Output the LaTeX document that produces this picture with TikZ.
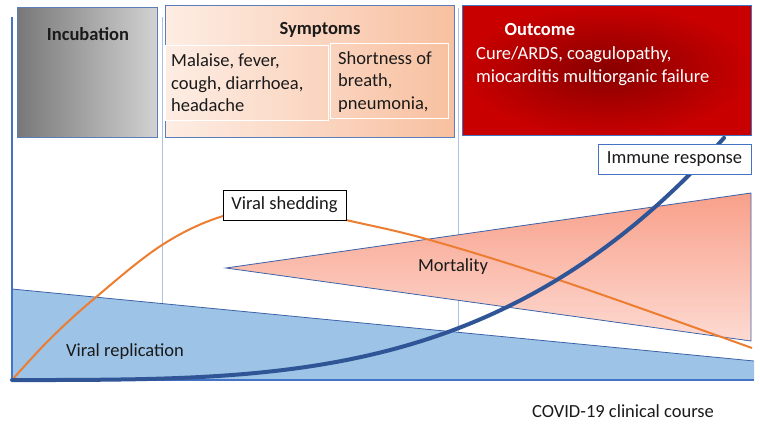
\documentclass[tikz,border=0pt]{standalone}
\usepackage{fontspec}
\setmainfont{Carlito}
\definecolor{axisblue}{HTML}{4472C4}
\definecolor{guideblue}{HTML}{A9C1E6}
\definecolor{vrfill}{HTML}{9DC3E6}
\definecolor{vredge}{HTML}{3C62A8}
\definecolor{immuneblue}{HTML}{2F5597}
\definecolor{shedorange}{HTML}{ED7D31}
\definecolor{morttop}{HTML}{F8A08A}
\definecolor{mortbot}{HTML}{FDDAD2}
\definecolor{outdark}{HTML}{880000}
\definecolor{outred}{HTML}{C80000}
\definecolor{symleft}{HTML}{FDEDE4}
\definecolor{symright}{HTML}{F8C0A0}
\definecolor{incleft}{HTML}{787878}
\definecolor{incright}{HTML}{D2D2D2}
\definecolor{boxedge}{HTML}{5B7DB8}
\definecolor{txt}{HTML}{1A1A1A}
\begin{document}
\begin{tikzpicture}[x=1pt,y=-1pt,
  font=\fontsize{18.5}{22}\selectfont, text=txt,
  guide/.style={draw=guideblue, line width=0.8pt},
  axisline/.style={draw=axisblue, line width=2pt},
  panel/.style={draw=boxedge, line width=0.8pt, anchor=north west, inner sep=0pt},
  innerbox/.style={draw=white, line width=0.8pt, anchor=north west, inner sep=0pt},
  labelbox/.style={draw, fill=white, line width=0.8pt, anchor=north west, inner sep=0pt, minimum height=30pt},
  plain/.style={inner sep=0pt},
  boldtext/.style={inner sep=0pt, font=\bfseries\fontsize{18.5}{22}\selectfont},
  listtext/.style={inner sep=0pt, align=left, anchor=west, font=\fontsize{18.5}{22.5}\selectfont},
  shedcurve/.style={draw=shedorange, line width=2pt},
  immunecurve/.style={draw=immuneblue, line width=4pt, line cap=round}
]
\useasboundingbox (0,0) rectangle (760,426);

% period separators
\coordinate (g1t) at (162,17);
\coordinate (g1b) at (162,310);
\coordinate (g2t) at (458,8);
\coordinate (g2b) at (458,336);
\draw[guide] (g1t) -- (g1b);
\draw[guide] (g2t) -- (g2b);

% viral replication wedge
\coordinate (vr1) at (12,289);
\coordinate (vr2) at (754,361);
\coordinate (vr3) at (754,380);
\coordinate (vr4) at (12,380);
\fill[vrfill] (vr1) -- (vr2) -- (vr3) -- (vr4) -- cycle;
\draw[vredge, line width=0.8pt] (vr1) -- (vr2);

% mortality wedge
\coordinate (m1) at (226,268);
\coordinate (m2) at (751,193);
\coordinate (m3) at (751,341);
\path[draw=vredge, line width=0.8pt, top color=morttop, bottom color=mortbot] (m1) -- (m2) -- (m3) -- cycle;

% axes
\coordinate (ax0) at (12,17);
\coordinate (ax1) at (12,380);
\coordinate (ax2) at (754,380);
\draw[axisline] (ax0) -- (ax1) -- (ax2);

% viral shedding curve
\draw[shedcurve] plot[smooth, tension=0.6] coordinates {(12,380) (50,339) (95,298) (162,245) (223,216) (285,206) (346,220) (430,240) (565,282) (752,348)};

% immune response curve
\draw[immunecurve] (ax1) -- plot[domain=14:724, samples=120] (\x, {380-241*((\x-12)/711)^3.3});

% panels
\node[panel, left color=incleft, right color=incright, minimum width=140pt, minimum height=130pt] (inc) at (17,7) {};
\node[boldtext] (inct) at (88,34) {Incubation};

\node[panel, left color=symleft, right color=symright, minimum width=289pt, minimum height=132pt] (sym) at (165,5) {};
\node[boldtext] (symt) at (320,30) {Symptoms};
\node[innerbox, minimum width=163pt, minimum height=75pt] (s1) at (165,45) {};
\node[innerbox, minimum width=118pt, minimum height=75pt] (s2) at (330,43) {};
\node[listtext] (s1t) at (171,83) {Malaise, fever,\\cough, diarrhoea,\\headache};
\node[listtext] (s2t) at (338,82) {Shortness of\\breath,\\pneumonia,};

\node[draw=axisblue, line width=0.8pt, anchor=north west, inner sep=0pt, inner color=outdark, outer color=outred, minimum width=289pt, minimum height=130pt] (out) at (462,5) {};
\node[boldtext, text=white] (outt) at (540,29) {Outcome};
\node[listtext, text=white] (outl) at (476,66) {Cure/ARDS, coagulopathy,\\miocarditis multiorganic failure};

% curve labels
\node[labelbox, draw=black, minimum width=123pt] (shed) at (223,190) {};
\node[plain] (shedt) at (284.5,205) {Viral shedding};
\node[labelbox, draw=axisblue, minimum width=153pt] (imm) at (598,144) {};
\node[plain] (immt) at (674.5,159) {Immune response};

\node[plain] (mort) at (453,267) {Mortality};
\node[plain] (vrep) at (125,352) {Viral replication};
\node[plain] (course) at (623,411) {COVID-19 clinical course};
\end{tikzpicture}
\end{document}
